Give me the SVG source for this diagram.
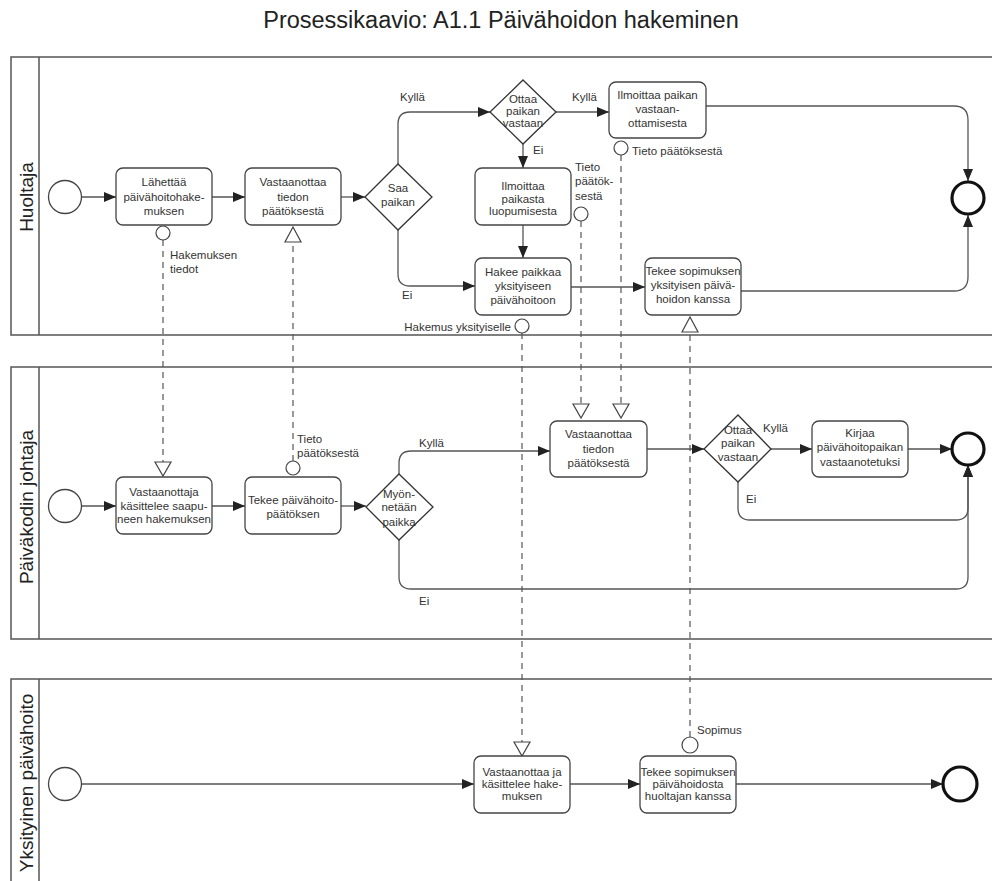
<svg xmlns="http://www.w3.org/2000/svg" width="992" height="881" viewBox="0 0 992 881">
<style>
  .lane{fill:none;stroke:#555;stroke-width:1.5}
  .task{fill:#fff;stroke:#444;stroke-width:1.3}
  .gw{fill:#fff;stroke:#333;stroke-width:1.3}
  .start{fill:#fff;stroke:#444;stroke-width:1.3}
  .end{fill:#fff;stroke:#111;stroke-width:3.2}
  .t{font-family:"Liberation Sans",Arial,sans-serif;font-size:11.5px;fill:#333;text-anchor:middle}
  .l{font-family:"Liberation Sans",Arial,sans-serif;font-size:11.5px;fill:#333}
  .lt{font-family:"Liberation Sans",Arial,sans-serif;font-size:19px;fill:#222;text-anchor:middle}
  .seq{fill:none;stroke:#555;stroke-width:1.3;marker-end:url(#arr)}
  .msg{fill:none;stroke:#555;stroke-width:1.2;stroke-dasharray:6 5}
  .mo{fill:#fff;stroke:#444;stroke-width:1.2}
</style>
<defs>
  <marker id="arr" viewBox="0 0 12 10" refX="12" refY="5" markerWidth="12" markerHeight="10" markerUnits="userSpaceOnUse" orient="auto">
    <path d="M0,0 L12,5 L0,10 z" fill="#222"/>
  </marker>
</defs>
<rect width="992" height="881" fill="#fff"/>
<text x="501" y="28" font-family="'Liberation Sans',Arial,sans-serif" font-size="23.5" fill="#222" text-anchor="middle">Prosessikaavio: A1.1 Päivähoidon hakeminen</text>

<g id="lanes">
  <path class="lane" d="M992,57 H11 V335 H992 M39,57 V335"/>
  <path class="lane" d="M992,367 H11 V639 H992 M39,367 V639"/>
  <path class="lane" d="M992,679 H11 V881 M39,679 V881"/>
  <text class="lt" transform="translate(33,197) rotate(-90)">Huoltaja</text>
  <text class="lt" transform="translate(33,507) rotate(-90)">Päiväkodin johtaja</text>
  <text class="lt" transform="translate(33,783) rotate(-90)">Yksityinen päivähoito</text>
</g>

<g id="connectors">
  <!-- lane 1 -->
  <path class="seq" d="M81.5,197 H116"/>
  <path class="seq" d="M212,197 H245"/>
  <path class="seq" d="M341,197 H365"/>
  <path class="seq" d="M398,164 V124 Q398,112 410,112 H490"/>
  <path class="seq" d="M556,112 H609"/>
  <path class="seq" d="M523,144 V168"/>
  <path class="seq" d="M523,225 V258"/>
  <path class="seq" d="M398,230 V274 Q398,286 410,286 H475"/>
  <path class="seq" d="M571,287 H645"/>
  <path class="seq" d="M706,106 H954 Q968,106 968,120 V181"/>
  <path class="seq" d="M741,291 H954 Q968,291 968,277 V215"/>
  <!-- lane 2 -->
  <path class="seq" d="M81.5,506 H116"/>
  <path class="seq" d="M212,506 H245"/>
  <path class="seq" d="M341,506 H366"/>
  <path class="seq" d="M399,474 V463 Q399,451 411,451 H550"/>
  <path class="seq" d="M399,540 V577 Q399,589 411,589 H956 Q968,589 968,577 V465"/>
  <path class="seq" d="M647,449 H704"/>
  <path class="seq" d="M770,449 H812"/>
  <path class="seq" d="M908,449 H952"/>
  <path class="seq" d="M738,482 V508 Q738,520 750,520 H956 Q968,520 968,508 V465"/>
  <!-- lane 3 -->
  <path class="seq" d="M81.5,784 H474"/>
  <path class="seq" d="M570,784 H640"/>
  <path class="seq" d="M736,784 H943"/>

  <!-- message flows -->
  <path class="msg" d="M163,240 V462"/>
  <circle class="mo" cx="163" cy="233" r="7"/>
  <path class="mo" d="M155,462 H171 L163,476 z"/>

  <path class="msg" d="M293,461 V242"/>
  <circle class="mo" cx="293" cy="468" r="7"/>
  <path class="mo" d="M285,242 H301 L293,227 z"/>

  <path class="msg" d="M621,155 V404"/>
  <circle class="mo" cx="621" cy="148" r="7"/>
  <path class="mo" d="M613,404 H629 L621,418 z"/>

  <path class="msg" d="M581,221 V404"/>
  <circle class="mo" cx="581" cy="214" r="7"/>
  <path class="mo" d="M573,404 H589 L581,418 z"/>

  <path class="msg" d="M522,333 V742"/>
  <circle class="mo" cx="522" cy="326" r="7"/>
  <path class="mo" d="M514,742 H530 L522,756 z"/>

  <path class="msg" d="M690,737 V332"/>
  <circle class="mo" cx="690" cy="745" r="8"/>
  <path class="mo" d="M682,332 H698 L690,317 z"/>

  <!-- labels -->
  <text class="l" x="170" y="259">Hakemuksen</text>
  <text class="l" x="170" y="273">tiedot</text>
  <text class="l" x="400" y="101">Kyllä</text>
  <text class="l" x="572" y="101">Kyllä</text>
  <text class="l" x="533" y="154">Ei</text>
  <text class="l" x="402" y="299">Ei</text>
  <text class="l" x="632" y="155">Tieto päätöksestä</text>
  <text class="l" x="575" y="171">Tieto</text>
  <text class="l" x="575" y="185">päätök-</text>
  <text class="l" x="575" y="200">sestä</text>
  <text class="l" x="511" y="331" text-anchor="end">Hakemus yksityiselle</text>
  <text class="l" x="297" y="443">Tieto</text>
  <text class="l" x="297" y="457">päätöksestä</text>
  <text class="l" x="419" y="447">Kyllä</text>
  <text class="l" x="419" y="605">Ei</text>
  <text class="l" x="763" y="432">Kyllä</text>
  <text class="l" x="746" y="503">Ei</text>
  <text class="l" x="697" y="734">Sopimus</text>
</g>

<!-- lane 1 nodes -->
<g id="start1"><circle class="start" cx="65" cy="197" r="16.5"/></g>
<g id="t_lahettaa">
  <rect class="task" x="116" y="168" width="96" height="57" rx="7"/>
  <text class="t" x="164" y="186">Lähettää</text>
  <text class="t" x="164" y="200.5">päivähoitohake-</text>
  <text class="t" x="164" y="215">muksen</text>
</g>
<g id="t_vastaanottaa1">
  <rect class="task" x="245" y="168" width="96" height="57" rx="7"/>
  <text class="t" x="293" y="186">Vastaanottaa</text>
  <text class="t" x="293" y="200.5">tiedon</text>
  <text class="t" x="293" y="215">päätöksestä</text>
</g>
<g id="g_saa">
  <path class="gw" d="M398,164 L432,197 L398,230 L365,197 z"/>
  <text class="t" x="398" y="192">Saa</text>
  <text class="t" x="398" y="206">paikan</text>
</g>
<g id="g_ottaa1">
  <path class="gw" d="M523,80 L556,112 L523,144 L490,112 z"/>
  <text class="t" x="523" y="103">Ottaa</text>
  <text class="t" x="523" y="115">paikan</text>
  <text class="t" x="523" y="127">vastaan</text>
</g>
<g id="t_ilmoittaa_vastaan">
  <rect class="task" x="609" y="82" width="97" height="56" rx="7"/>
  <text class="t" x="657.5" y="99">Ilmoittaa paikan</text>
  <text class="t" x="657.5" y="113">vastaan-</text>
  <text class="t" x="657.5" y="127">ottamisesta</text>
</g>
<g id="t_luopuminen">
  <rect class="task" x="475" y="168" width="96" height="57" rx="7"/>
  <text class="t" x="523" y="190">Ilmoittaa</text>
  <text class="t" x="523" y="202.5">paikasta</text>
  <text class="t" x="523" y="215">luopumisesta</text>
</g>
<g id="t_hakee">
  <rect class="task" x="475" y="258" width="96" height="57" rx="7"/>
  <text class="t" x="523" y="276">Hakee paikkaa</text>
  <text class="t" x="523" y="290">yksityiseen</text>
  <text class="t" x="523" y="304">päivähoitoon</text>
</g>
<g id="t_sopimus1">
  <rect class="task" x="645" y="258" width="96" height="57" rx="7"/>
  <text class="t" x="693" y="275">Tekee sopimuksen</text>
  <text class="t" x="693" y="289">yksityisen päivä-</text>
  <text class="t" x="693" y="303">hoidon kanssa</text>
</g>
<g id="end1"><circle class="end" cx="968" cy="198" r="16"/></g>

<!-- lane 2 nodes -->
<g id="start2"><circle class="start" cx="65" cy="506" r="16.5"/></g>
<g id="t_vastaanottaja">
  <rect class="task" x="116" y="477" width="96" height="57" rx="7"/>
  <text class="t" x="164" y="496">Vastaanottaja</text>
  <text class="t" x="164" y="510">käsittelee saapu-</text>
  <text class="t" x="164" y="523">neen hakemuksen</text>
</g>
<g id="t_paatos">
  <rect class="task" x="245" y="477" width="96" height="57" rx="7"/>
  <text class="t" x="293" y="504">Tekee päivähoito-</text>
  <text class="t" x="293" y="518">päätöksen</text>
</g>
<g id="g_myonnetaan">
  <path class="gw" d="M399,474 L433,507 L399,540 L366,507 z"/>
  <text class="t" x="399" y="498">Myön-</text>
  <text class="t" x="399" y="511">netään</text>
  <text class="t" x="399" y="526">paikka</text>
</g>
<g id="t_vastaanottaa2">
  <rect class="task" x="550" y="421" width="97" height="56" rx="7"/>
  <text class="t" x="598.5" y="438">Vastaanottaa</text>
  <text class="t" x="598.5" y="453">tiedon</text>
  <text class="t" x="598.5" y="467">päätöksestä</text>
</g>
<g id="g_ottaa2">
  <path class="gw" d="M738,415 L771,449 L738,482 L704,449 z"/>
  <text class="t" x="738" y="434">Ottaa</text>
  <text class="t" x="738" y="447">paikan</text>
  <text class="t" x="738" y="461">vastaan</text>
</g>
<g id="t_kirjaa">
  <rect class="task" x="812" y="421" width="96" height="56" rx="7"/>
  <text class="t" x="860" y="437">Kirjaa</text>
  <text class="t" x="860" y="451">päivähoitopaikan</text>
  <text class="t" x="860" y="466">vastaanotetuksi</text>
</g>
<g id="end2"><circle class="end" cx="968" cy="449" r="16"/></g>

<!-- lane 3 nodes -->
<g id="start3"><circle class="start" cx="65" cy="784" r="16.5"/></g>
<g id="t_vastaanottaa3">
  <rect class="task" x="474" y="756" width="96" height="57" rx="7"/>
  <text class="t" x="522" y="776">Vastaanottaa ja</text>
  <text class="t" x="522" y="788">käsittelee hake-</text>
  <text class="t" x="522" y="800">muksen</text>
</g>
<g id="t_sopimus3">
  <rect class="task" x="640" y="756" width="96" height="57" rx="7"/>
  <text class="t" x="688" y="776">Tekee sopimuksen</text>
  <text class="t" x="688" y="788">päivähoidosta</text>
  <text class="t" x="688" y="800">huoltajan kanssa</text>
</g>
<g id="end3"><circle class="end" cx="960" cy="784" r="17"/></g>
</svg>
